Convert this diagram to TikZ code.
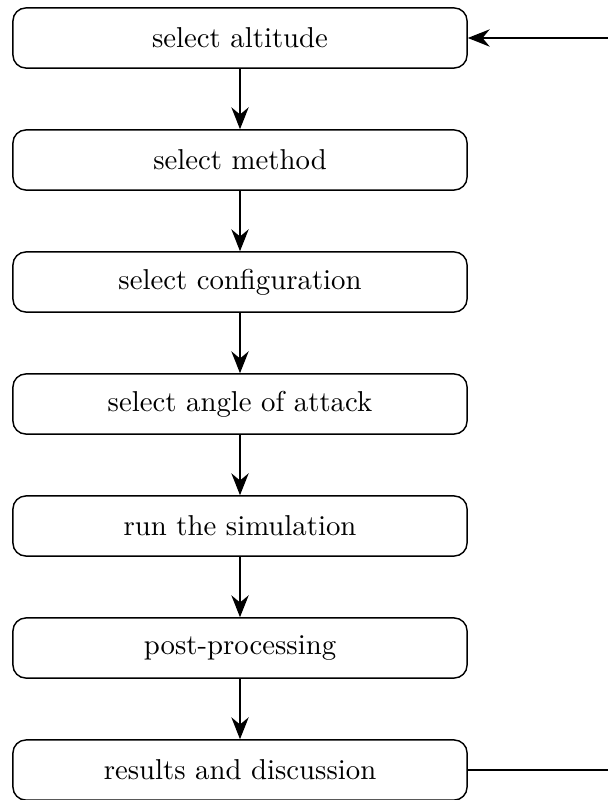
\documentclass[tikz,border=0pt]{standalone}
\usetikzlibrary{arrows.meta}
\begin{document}
\begin{tikzpicture}[
  stepbox/.style={draw, line width=0.5pt, rounded corners=4.5pt, minimum width=157.9pt, minimum height=20.9pt, inner sep=0pt},
  arr/.style={-{Stealth[length=7.6pt,width=6pt]}, line width=0.8pt}
]
\useasboundingbox (0pt,0pt) rectangle (211.4pt,-278.16pt);
\node[stepbox] (b1) at (83.45pt,-13.21pt) {select altitude};
\node[stepbox] (b2) at (83.45pt,-55.63pt) {select method};
\node[stepbox] (b3) at (83.45pt,-98.05pt) {select configuration};
\node[stepbox] (b4) at (83.45pt,-140.47pt) {select angle of attack};
\node[stepbox] (b5) at (83.45pt,-182.89pt) {run the simulation};
\node[stepbox] (b6) at (83.45pt,-225.31pt) {post-processing};
\node[stepbox] (b7) at (83.45pt,-267.73pt) {results and discussion};
\coordinate (fb) at (216pt,-140pt);
\draw[arr] (b1) -- (b2);
\draw[arr] (b2) -- (b3);
\draw[arr] (b3) -- (b4);
\draw[arr] (b4) -- (b5);
\draw[arr] (b5) -- (b6);
\draw[arr] (b6) -- (b7);
\draw[arr] (b7.east) -- (b7.east -| fb) -- (b1.east -| fb) -- (b1.east);
\end{tikzpicture}
\end{document}
